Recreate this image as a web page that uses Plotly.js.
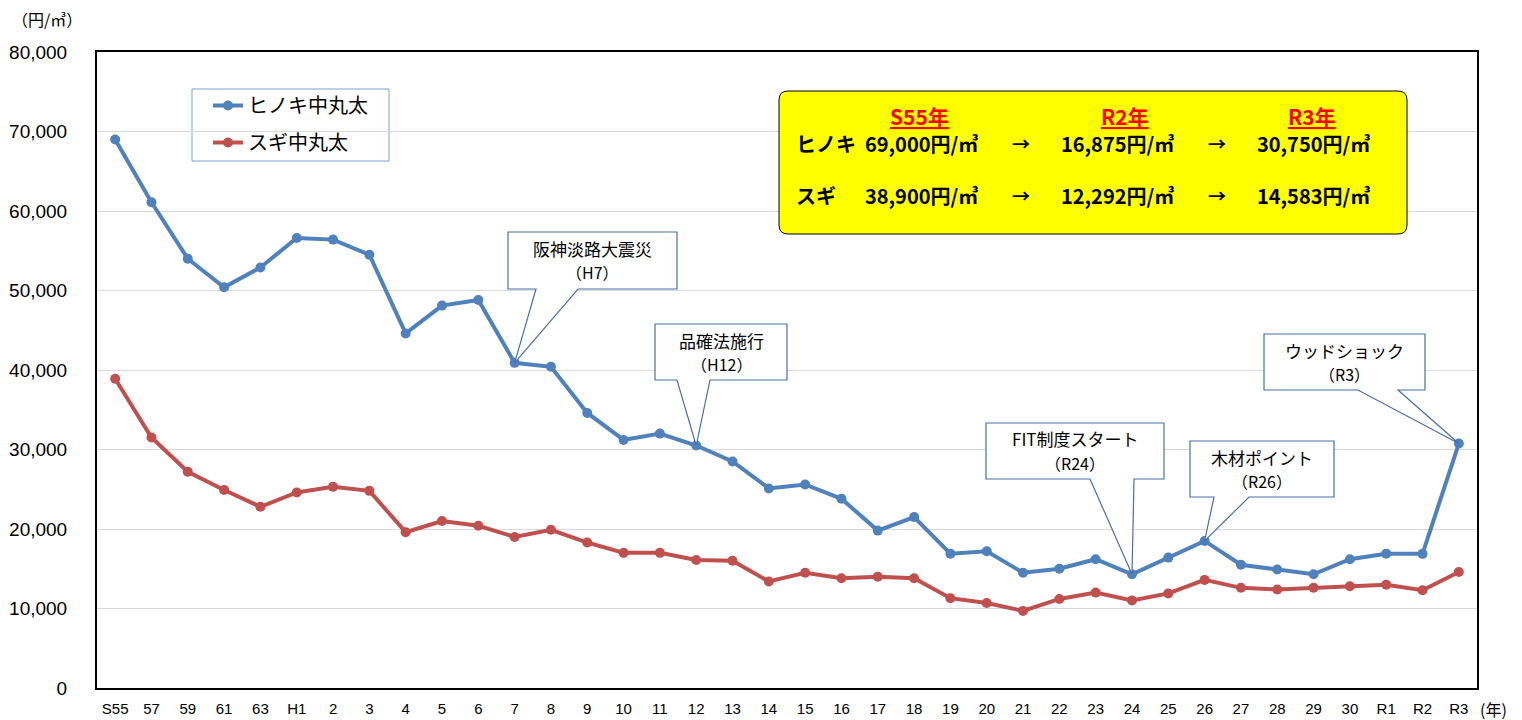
<!DOCTYPE html>
<html>
<head>
<meta charset="utf-8">
<script src="https://cdn.plot.ly/plotly-3.0.1.min.js"></script>
<style>
  html, body { margin: 0; padding: 0; background: #fff; }
  #chart { width: 1522px; height: 720px; }
</style>
</head>
<body>
<div id="chart"></div>
<script>
// years (Showa / Heisei / Reiwa)
const years = ["S55", "57", "59", "61", "63", "H1", "2", "3", "4", "5", "6", "7", "8", "9", "10",
    "11", "12", "13", "14", "15", "16", "17", "18", "19", "20", "21", "22", "23", "24", "25",
    "26", "27", "28", "29", "30", "R1", "R2", "R3"];

// 円/㎥
const hinoki = [69000, 61100, 54000, 50400, 52900, 56600, 56400, 54500, 44600, 48100, 48800,
    40900, 40400, 34600, 31200, 32000, 30500, 28500, 25100, 25600, 23800, 19800, 21500, 16900,
    17200, 14500, 15000, 16200, 14300, 16400, 18500, 15500, 14900, 14300, 16200, 16900, 16875, 30750];

const sugi = [38900, 31500, 27200, 24900, 22800, 24600, 25300, 24800, 19600, 21000, 20400,
    19000, 19900, 18300, 17000, 17000, 16100, 16000, 13400, 14500, 13800, 14000, 13800, 11300,
    10700, 9700, 11200, 12000, 11000, 11900, 13600, 12600, 12400, 12600, 12800, 13000, 12292, 14583];

const seriesNames = ["ヒノキ中丸太", "スギ中丸太"];

// callouts: [label line1, label line2, index into years]
const callouts = [
    ["阪神淡路大震災", "（H7）", 11],
    ["品確法施行", "（H12）", 16],
    ["FIT制度スタート", "（R24）", 28],
    ["木材ポイント", "（R26）", 30],
    ["ウッドショック", "（R3）", 37]
];

const summaryHead = ["S55年", "R2年", "R3年"];
const summaryRows = [
    ["ヒノキ", "69,000円/㎥", "16,875円/㎥", "30,750円/㎥"],
    ["スギ", "38,900円/㎥", "12,292円/㎥", "14,583円/㎥"]
];

const YMAX = 80000;
const L = 97, R = 1477, T = 52, B = 688;
const jp = "Noto Sans CJK JP, sans-serif";

// pixel -> paper helpers
function px(x) { return (x - L) / (R - L); }
function py(y) { return (B - y) / (B - T); }

function note(x, y, text, font, extra) {
    const a = {
        xref: "paper", yref: "paper", x: px(x), y: py(y),
        xanchor: "center", yanchor: "middle",
        text: text, showarrow: false, font: font
    };
    return Object.assign(a, extra || {});
}

const traces = [
    {
        x: years, y: hinoki, name: seriesNames[0], type: "scatter", mode: "lines+markers",
        line: { color: "#4f81bd", width: 4 },
        marker: { color: "#4f81bd", size: 10 },
        legendgroup: "a"
    },
    {
        x: years, y: sugi, name: seriesNames[1], type: "scatter", mode: "lines+markers",
        line: { color: "#c0504d", width: 4 },
        marker: { color: "#c0504d", size: 10 },
        legendgroup: "b"
    }
];

const shapes = [];
const annotations = [];

// legend frame
shapes.push({
    type: "rect", xref: "paper", yref: "paper",
    x0: px(192), x1: px(389), y0: py(89), y1: py(161),
    fillcolor: "#ffffff", line: { color: "#7f9fcf", width: 1 }, layer: "below"
});

// callout boxes: [left, top, right, bottom, pointer base x1, x2] in px
const boxGeom = [
    [508, 232, 677, 289, 536, 578],
    [655, 324, 787, 380, 677, 710],
    [986, 423, 1164, 479, 1090, 1134],
    [1190, 441, 1334, 497, 1214, 1249],
    [1264, 334, 1425, 390, 1358, 1398]
];

callouts.forEach(function (c, k) {
    const g = boxGeom[k];
    const tipX = (c[2] + 0.5) / years.length;
    const tipY = hinoki[c[2]] / YMAX;
    const path = "M" + px(g[0]) + "," + py(g[1]) +
        " L" + px(g[2]) + "," + py(g[1]) +
        " L" + px(g[2]) + "," + py(g[3]) +
        " L" + px(g[5]) + "," + py(g[3]) +
        " L" + tipX + "," + tipY +
        " L" + px(g[4]) + "," + py(g[3]) +
        " L" + px(g[0]) + "," + py(g[3]) + " Z";
    shapes.push({
        type: "path", xref: "paper", yref: "paper", path: path,
        fillcolor: "#ffffff", line: { color: "#4a6fa5", width: 1.2 }, layer: "above"
    });
    const cx = (g[0] + g[2]) / 2;
    annotations.push(note(cx, g[1] + 16, c[0], { family: jp, size: 17, color: "#000" }));
    annotations.push(note(cx, g[1] + 40, c[1], { family: jp, size: 16, color: "#000" }));
});

// yellow summary box with rounded corners
(function () {
    const x0 = 779, y0 = 91, x1 = 1407, y1 = 234, r = 9;
    const p = "M" + px(x0 + r) + "," + py(y0) +
        " L" + px(x1 - r) + "," + py(y0) +
        " Q" + px(x1) + "," + py(y0) + " " + px(x1) + "," + py(y0 + r) +
        " L" + px(x1) + "," + py(y1 - r) +
        " Q" + px(x1) + "," + py(y1) + " " + px(x1 - r) + "," + py(y1) +
        " L" + px(x0 + r) + "," + py(y1) +
        " Q" + px(x0) + "," + py(y1) + " " + px(x0) + "," + py(y1 - r) +
        " L" + px(x0) + "," + py(y0 + r) +
        " Q" + px(x0) + "," + py(y0) + " " + px(x0 + r) + "," + py(y0) + " Z";
    shapes.push({
        type: "path", xref: "paper", yref: "paper", path: p,
        fillcolor: "#ffff00", line: { color: "#000", width: 1 }, layer: "above"
    });
})();

const headX = [919, 1125, 1312];
summaryHead.forEach(function (h, i) {
    annotations.push(note(headX[i], 116,
        "<b><span style='text-decoration:underline'>" + h + "</span></b>",
        { family: jp, size: 21, color: "#ff0000" }));
});

const rowY = [143, 195];
const valX = [921, 1117, 1313];
const arrowX = [1021, 1217];
summaryRows.forEach(function (row, j) {
    annotations.push(note(794, rowY[j], "<b>" + row[0] + "</b>",
        { family: jp, size: 20, color: "#000" }, { xanchor: "left" }));
    for (let i = 1; i < row.length; i++) {
        annotations.push(note(valX[i - 1], rowY[j], "<b>" + row[i] + "</b>",
            { family: jp, size: 20, color: "#000" }));
    }
    arrowX.forEach(function (ax) {
        annotations.push(note(ax, rowY[j], "<b>→</b>", { family: jp, size: 18, color: "#000" }));
    });
});

// unit labels
annotations.push(note(10, 19, "（円/㎥）", { family: jp, size: 16, color: "#000" }, { xanchor: "left" }));
annotations.push(note(1478, 709, "(年)", { family: jp, size: 16, color: "#000" }, { xanchor: "left" }));

const layout = {
    width: 1522, height: 720,
    margin: { l: L, r: 1522 - R, t: T, b: 720 - B },
    paper_bgcolor: "#ffffff", plot_bgcolor: "#ffffff",
    showlegend: true,
    legend: {
        x: px(208), y: py(86), xanchor: "left", yanchor: "top",
        bgcolor: "rgba(0,0,0,0)", borderwidth: 0,
        font: { family: jp, size: 20, color: "#000" },
        tracegroupgap: 8, traceorder: "grouped"
    },
    xaxis: {
        type: "category", categoryorder: "array", categoryarray: years,
        range: [-0.5, years.length - 0.5],
        showline: true, linecolor: "#000", linewidth: 2, mirror: true,
        showgrid: false, ticks: "", ticklabelstandoff: 6,
        tickfont: { family: "Liberation Sans Narrow, Liberation Sans, sans-serif", size: 15, color: "#000" }
    },
    yaxis: {
        range: [0, YMAX], dtick: 10000, tickformat: ",d",
        showline: true, linecolor: "#000", linewidth: 2, mirror: true,
        gridcolor: "#d9d9d9", gridwidth: 1, zeroline: false,
        ticks: "", ticklabelstandoff: 24,
        tickfont: { family: "Liberation Sans, sans-serif", size: 19, color: "#000" }
    },
    shapes: shapes,
    annotations: annotations
};

Plotly.newPlot("chart", traces, layout, { displayModeBar: false, staticPlot: true });
</script>
</body>
</html>
